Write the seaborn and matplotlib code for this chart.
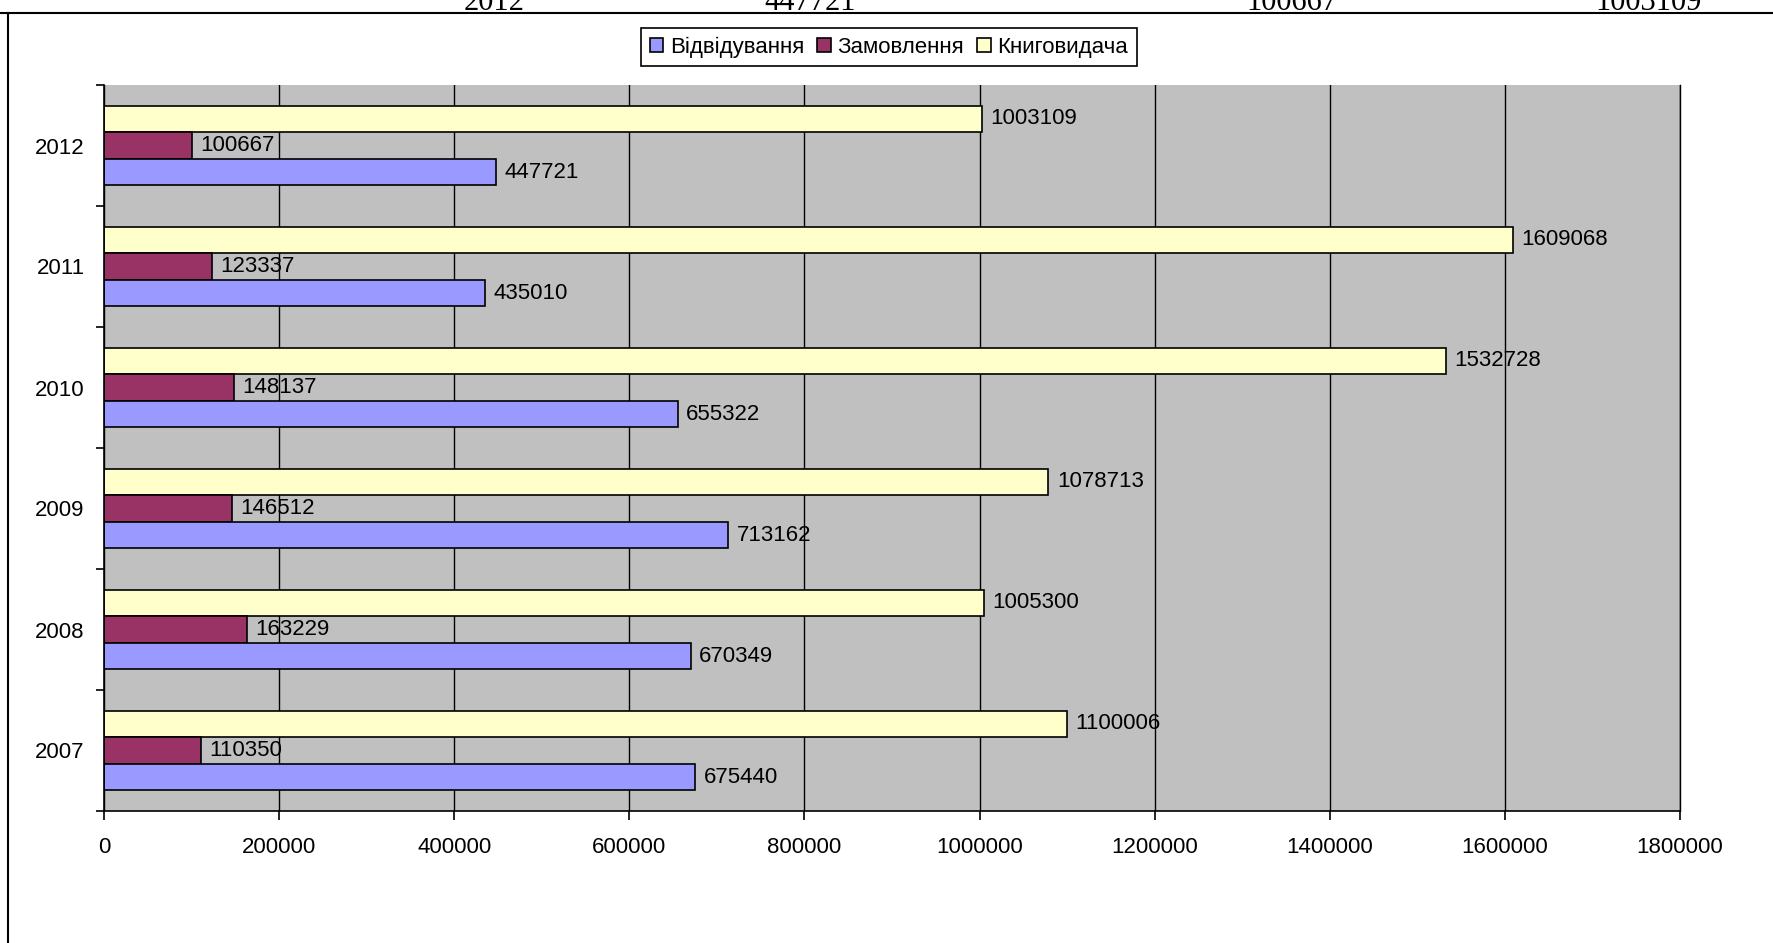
import pandas as pd
import matplotlib.pyplot as plt
from matplotlib.lines import Line2D
from matplotlib.patches import Patch
import seaborn as sns

# дані
years = ["2007", "2008", "2009", "2010", "2011", "2012"]
visits = [675440, 670349, 713162, 655322, 435010, 447721]
orders = [110350, 163229, 146512, 148137, 123337, 100667]
loans = [1100006, 1005300, 1078713, 1532728, 1609068, 1003109]
series_names = ["Відвідування", "Замовлення", "Книговидача"]
series_colors = ["#9999FF", "#993366", "#FFFFCC"]
x_ticks = [0, 200000, 400000, 600000, 800000, 1000000, 1200000, 1400000, 1600000, 1800000]
# рядок таблиці над діаграмою (обрізаний)
top_row = ["2012", "447721", "100667", "1003109"]
top_row_x = [494, 810, 1292, 1649]

W, H = 1773, 943

df = pd.DataFrame({
    "year": years * 3,
    "value": visits + orders + loans,
    "series": [s for s in series_names for _ in years],
})

plt.rcParams["font.family"] = ["Liberation Sans", "DejaVu Sans"]
FS = 16

fig = plt.figure(figsize=(W / 100, H / 100), dpi=100)
ax = fig.add_axes([104 / W, 1 - 811 / H, (1680 - 104) / W, (811 - 85) / H])

# у групі зверху вниз: Книговидача, Замовлення, Відвідування
hue_order = series_names[::-1]
palette = dict(zip(series_names, series_colors))
sns.barplot(
    data=df, y="year", x="value", hue="series", orient="h",
    order=years[::-1], hue_order=hue_order, palette=palette,
    width=0.66, gap=0, errorbar=None, legend=False,
    edgecolor="black", linewidth=1.2, saturation=1, ax=ax,
)

for c in ax.containers:
    ax.bar_label(c, fmt="%d", padding=6, fontsize=FS, color="black")

ax.set_facecolor("#C0C0C0")
ax.set_xlim(0, 1800000)
ax.set_ylim(5.5, -0.5)
ax.set_xticks(x_ticks)
ax.set_xticklabels([str(t) for t in x_ticks], fontsize=FS)
ax.set_yticks(range(len(years)))
ax.set_yticklabels(years[::-1], fontsize=FS)
ax.set_yticks([i - 0.5 for i in range(len(years) + 1)], minor=True)
ax.tick_params(axis="y", which="major", length=0, pad=14)
ax.tick_params(axis="y", which="minor", length=6, width=1.2, color="black", direction="out")
ax.tick_params(axis="x", length=6.5, width=1.2, color="black", direction="out", pad=12)
ax.set_xlabel("")
ax.set_ylabel("")
ax.grid(axis="x", color="black", linewidth=1.0)
ax.grid(axis="y", visible=False)
ax.set_axisbelow(True)
for side in ["left", "bottom", "right"]:
    ax.spines[side].set_color("black")
    ax.spines[side].set_linewidth(1.2)
ax.spines["right"].set_linewidth(1.0)
ax.spines["top"].set_visible(False)

handles = [Patch(facecolor=c, edgecolor="black", linewidth=1.2) for c in series_colors]
leg = fig.legend(
    handles, series_names, loc="center",
    bbox_to_anchor=(889 / W, 1 - 47 / H), ncol=3, fontsize=FS,
    frameon=True, fancybox=False, framealpha=1, edgecolor="black",
    handlelength=0.6, handleheight=0.6, handletextpad=0.3,
    columnspacing=0.6, borderpad=0.4, borderaxespad=0,
)
leg.get_frame().set_linewidth(1.2)

# рамка діаграми
fig.add_artist(Line2D([0, 1], [1 - 13 / H] * 2, transform=fig.transFigure, color="black", lw=1.5))
fig.add_artist(Line2D([8 / W] * 2, [0, 1 - 13 / H], transform=fig.transFigure, color="black", lw=1.5))

# рядок таблиці, що виглядає з-за верхнього краю
for s, x in zip(top_row, top_row_x):
    fig.text(x / W, 1 - 10 / H, s, ha="center", va="baseline",
             family=["Liberation Serif", "DejaVu Serif"], fontsize=22)

fig.savefig("out.png", dpi=100)
